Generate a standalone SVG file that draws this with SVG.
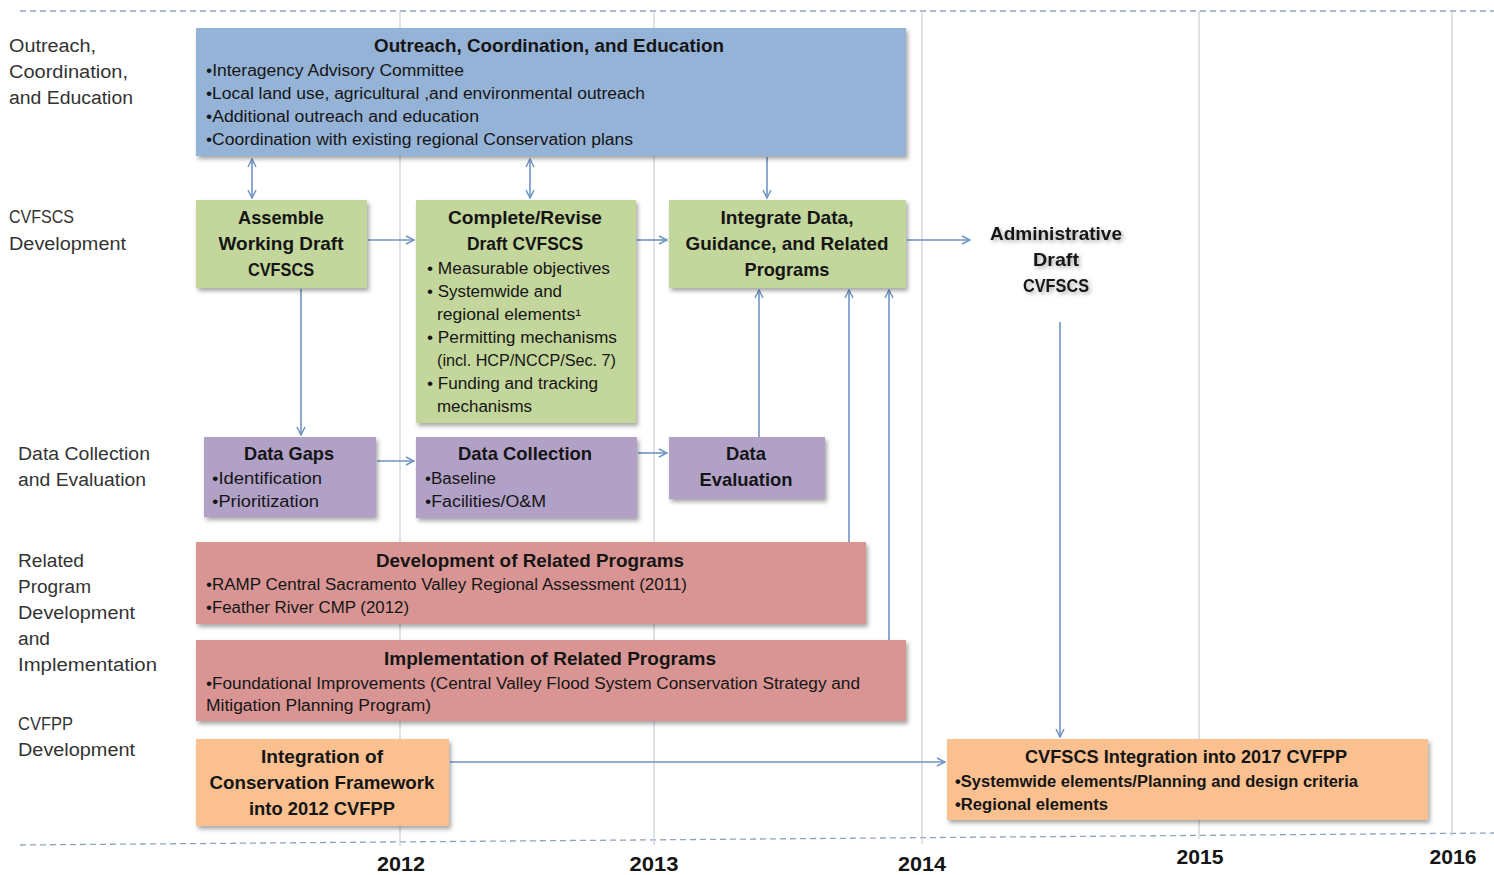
<svg xmlns="http://www.w3.org/2000/svg" width="1494" height="875" viewBox="0 0 1494 875">
<style>
text{font-family:"Liberation Sans",Arial,sans-serif;fill:#151515}
.lbl{font-size:18px;fill:#333}
.t{font-size:19px;font-weight:bold;text-anchor:middle}
.b{font-size:16px}
.bb{font-size:16px;font-weight:bold}
.yr{font-size:20px;font-weight:bold;text-anchor:middle}
.grid{stroke:#c9cdd6;stroke-width:1.2}
.dash{stroke:#8ea3bd;stroke-width:1.3;stroke-dasharray:6 4;fill:none}
.c{stroke:#6f93c2;stroke-width:1.6;fill:none}
.blue{fill:#95b3d7}
.green{fill:#c3d69b}
.purple{fill:#b2a1c7}
.red{fill:#d99594}
.orange{fill:#fac090}
</style>
<defs>
<filter id="sh" x="-5%" y="-5%" width="112%" height="125%">
<feDropShadow dx="2" dy="3" stdDeviation="2" flood-color="#000" flood-opacity="0.35"/>
</filter>
<filter id="glow" x="-10%" y="-20%" width="125%" height="150%">
<feDropShadow dx="2" dy="2" stdDeviation="2" flood-color="#000" flood-opacity="0.35"/>
</filter>
<marker id="ah" viewBox="0 0 10 10" refX="9" refY="5" markerWidth="10" markerHeight="10" markerUnits="userSpaceOnUse" orient="auto-start-reverse">
<path d="M1,1 L9,5 L1,9" fill="none" stroke="#6f93c2" stroke-width="1.5"/>
</marker>
</defs>
<rect width="1494" height="875" fill="#fff"/>
<g id="timeline">
<line class="dash" x1="20" y1="11" x2="1494" y2="11"/>
<line class="dash" x1="20" y1="845" x2="1494" y2="833"/>
<line class="grid" x1="400" y1="11" x2="400" y2="846"/>
<line class="grid" x1="654" y1="11" x2="654" y2="845"/>
<line class="grid" x1="922" y1="11" x2="922" y2="844"/>
<line class="grid" x1="1199" y1="11" x2="1199" y2="839"/>
<line class="grid" x1="1452" y1="11" x2="1452" y2="836"/>
<text class="yr" x="401" y="871" textLength="48" lengthAdjust="spacingAndGlyphs">2012</text>
<text class="yr" x="654" y="871" textLength="49" lengthAdjust="spacingAndGlyphs">2013</text>
<text class="yr" x="922" y="871" textLength="48" lengthAdjust="spacingAndGlyphs">2014</text>
<text class="yr" x="1200" y="864" textLength="47" lengthAdjust="spacingAndGlyphs">2015</text>
<text class="yr" x="1453" y="864" textLength="47" lengthAdjust="spacingAndGlyphs">2016</text>
</g>
<g id="lane-labels">
<text class="lbl" x="9" y="52" textLength="87" lengthAdjust="spacingAndGlyphs">Outreach,</text>
<text class="lbl" x="9" y="78" textLength="119" lengthAdjust="spacingAndGlyphs">Coordination,</text>
<text class="lbl" x="9" y="104" textLength="124" lengthAdjust="spacingAndGlyphs">and Education</text>
<text class="lbl" x="9" y="223" textLength="65" lengthAdjust="spacingAndGlyphs">CVFSCS</text>
<text class="lbl" x="9" y="250" textLength="117" lengthAdjust="spacingAndGlyphs">Development</text>
<text class="lbl" x="18" y="460" textLength="132" lengthAdjust="spacingAndGlyphs">Data Collection</text>
<text class="lbl" x="18" y="486" textLength="128" lengthAdjust="spacingAndGlyphs">and Evaluation</text>
<text class="lbl" x="18" y="567" textLength="66" lengthAdjust="spacingAndGlyphs">Related</text>
<text class="lbl" x="18" y="593" textLength="73" lengthAdjust="spacingAndGlyphs">Program</text>
<text class="lbl" x="18" y="619" textLength="117" lengthAdjust="spacingAndGlyphs">Development</text>
<text class="lbl" x="18" y="645" textLength="32" lengthAdjust="spacingAndGlyphs">and</text>
<text class="lbl" x="18" y="671" textLength="139" lengthAdjust="spacingAndGlyphs">Implementation</text>
<text class="lbl" x="18" y="730" textLength="55" lengthAdjust="spacingAndGlyphs">CVFPP</text>
<text class="lbl" x="18" y="756" textLength="117" lengthAdjust="spacingAndGlyphs">Development</text>
</g>
<g id="connectors">
<line class="c" x1="252" y1="159" x2="252" y2="198" marker-start="url(#ah)" marker-end="url(#ah)"/>
<line class="c" x1="530" y1="159" x2="530" y2="198" marker-start="url(#ah)" marker-end="url(#ah)"/>
<line class="c" x1="767" y1="157" x2="767" y2="198" marker-end="url(#ah)"/>
<line class="c" x1="368" y1="240" x2="414" y2="240" marker-end="url(#ah)"/>
<line class="c" x1="637" y1="240" x2="667" y2="240" marker-end="url(#ah)"/>
<line class="c" x1="907" y1="240" x2="970" y2="240" marker-end="url(#ah)"/>
<line class="c" x1="301" y1="289" x2="301" y2="435" marker-end="url(#ah)"/>
<line class="c" x1="377" y1="461" x2="414" y2="461" marker-end="url(#ah)"/>
<line class="c" x1="638" y1="453" x2="667" y2="453" marker-end="url(#ah)"/>
<line class="c" x1="759" y1="437" x2="759" y2="290" marker-end="url(#ah)"/>
<line class="c" x1="849" y1="542" x2="849" y2="290" marker-end="url(#ah)"/>
<line class="c" x1="889" y1="640" x2="889" y2="290" marker-end="url(#ah)"/>
<line class="c" x1="1060" y1="322" x2="1060" y2="737" marker-end="url(#ah)"/>
<line class="c" x1="450" y1="762" x2="945" y2="762" marker-end="url(#ah)"/>
</g>
<g id="outreach">
<rect class="blue" x="196" y="28" width="710" height="128" filter="url(#sh)"/>
<text class="t" x="549" y="52" textLength="350" lengthAdjust="spacingAndGlyphs">Outreach, Coordination, and Education</text>
<text class="b" x="206" y="76" textLength="258" lengthAdjust="spacingAndGlyphs">•Interagency Advisory Committee</text>
<text class="b" x="206" y="99" textLength="439" lengthAdjust="spacingAndGlyphs">•Local land use, agricultural ,and environmental outreach</text>
<text class="b" x="206" y="122" textLength="273" lengthAdjust="spacingAndGlyphs">•Additional outreach and education</text>
<text class="b" x="206" y="145" textLength="427" lengthAdjust="spacingAndGlyphs">•Coordination with existing regional Conservation plans</text>
</g>
<g id="assemble">
<rect class="green" x="196" y="200" width="171" height="88" filter="url(#sh)"/>
<text class="t" x="281" y="224" textLength="86" lengthAdjust="spacingAndGlyphs">Assemble</text>
<text class="t" x="281" y="250" textLength="125" lengthAdjust="spacingAndGlyphs">Working Draft</text>
<text class="t" x="281" y="276" textLength="66" lengthAdjust="spacingAndGlyphs">CVFSCS</text>
</g>
<g id="complete">
<rect class="green" x="416" y="200" width="220" height="223" filter="url(#sh)"/>
<text class="t" x="525" y="224" textLength="154" lengthAdjust="spacingAndGlyphs">Complete/Revise</text>
<text class="t" x="525" y="250" textLength="116" lengthAdjust="spacingAndGlyphs">Draft CVFSCS</text>
<text class="b" x="427" y="274" textLength="183" lengthAdjust="spacingAndGlyphs">• Measurable objectives</text>
<text class="b" x="427" y="297" textLength="135" lengthAdjust="spacingAndGlyphs">• Systemwide and</text>
<text class="b" x="437" y="320" textLength="144" lengthAdjust="spacingAndGlyphs">regional elements¹</text>
<text class="b" x="427" y="343" textLength="190" lengthAdjust="spacingAndGlyphs">• Permitting mechanisms</text>
<text class="b" x="437" y="366" textLength="179" lengthAdjust="spacingAndGlyphs">(incl. HCP/NCCP/Sec. 7)</text>
<text class="b" x="427" y="389" textLength="171" lengthAdjust="spacingAndGlyphs">• Funding and tracking</text>
<text class="b" x="437" y="412" textLength="95" lengthAdjust="spacingAndGlyphs">mechanisms</text>
</g>
<g id="integrate">
<rect class="green" x="669" y="200" width="237" height="88" filter="url(#sh)"/>
<text class="t" x="787" y="224" textLength="133" lengthAdjust="spacingAndGlyphs">Integrate Data,</text>
<text class="t" x="787" y="250" textLength="203" lengthAdjust="spacingAndGlyphs">Guidance, and Related</text>
<text class="t" x="787" y="276" textLength="85" lengthAdjust="spacingAndGlyphs">Programs</text>
</g>
<g id="admin-draft" filter="url(#glow)">
<text class="t" x="1056" y="240" textLength="132" lengthAdjust="spacingAndGlyphs">Administrative</text>
<text class="t" x="1056" y="266" textLength="46" lengthAdjust="spacingAndGlyphs">Draft</text>
<text class="t" x="1056" y="292" textLength="66" lengthAdjust="spacingAndGlyphs">CVFSCS</text>
</g>
<g id="data-gaps">
<rect class="purple" x="204" y="437" width="172" height="80" filter="url(#sh)"/>
<text class="t" x="289" y="460" textLength="90" lengthAdjust="spacingAndGlyphs">Data Gaps</text>
<text class="b" x="212" y="484" textLength="110" lengthAdjust="spacingAndGlyphs">•Identification</text>
<text class="b" x="212" y="507" textLength="107" lengthAdjust="spacingAndGlyphs">•Prioritization</text>
</g>
<g id="data-collection">
<rect class="purple" x="416" y="437" width="221" height="81" filter="url(#sh)"/>
<text class="t" x="525" y="460" textLength="134" lengthAdjust="spacingAndGlyphs">Data Collection</text>
<text class="b" x="425" y="484" textLength="71" lengthAdjust="spacingAndGlyphs">•Baseline</text>
<text class="b" x="425" y="507" textLength="121" lengthAdjust="spacingAndGlyphs">•Facilities/O&amp;M</text>
</g>
<g id="data-evaluation">
<rect class="purple" x="669" y="437" width="156" height="62" filter="url(#sh)"/>
<text class="t" x="746" y="460" textLength="40" lengthAdjust="spacingAndGlyphs">Data</text>
<text class="t" x="746" y="486" textLength="93" lengthAdjust="spacingAndGlyphs">Evaluation</text>
</g>
<g id="dev-related">
<rect class="red" x="196" y="542" width="670" height="82" filter="url(#sh)"/>
<text class="t" x="530" y="567" textLength="308" lengthAdjust="spacingAndGlyphs">Development of Related Programs</text>
<text class="b" x="206" y="590" textLength="481" lengthAdjust="spacingAndGlyphs">•RAMP Central Sacramento Valley Regional Assessment (2011)</text>
<text class="b" x="206" y="613" textLength="203" lengthAdjust="spacingAndGlyphs">•Feather River CMP (2012)</text>
</g>
<g id="impl-related">
<rect class="red" x="196" y="640" width="710" height="81" filter="url(#sh)"/>
<text class="t" x="550" y="665" textLength="332" lengthAdjust="spacingAndGlyphs">Implementation of Related Programs</text>
<text class="b" x="206" y="689" textLength="654" lengthAdjust="spacingAndGlyphs">•Foundational Improvements (Central Valley Flood System Conservation Strategy and</text>
<text class="b" x="206" y="711" textLength="225" lengthAdjust="spacingAndGlyphs">Mitigation Planning Program)</text>
</g>
<g id="integration-2012">
<rect class="orange" x="196" y="739" width="253" height="87" filter="url(#sh)"/>
<text class="t" x="322" y="763" textLength="122" lengthAdjust="spacingAndGlyphs">Integration of</text>
<text class="t" x="322" y="789" textLength="225" lengthAdjust="spacingAndGlyphs">Conservation Framework</text>
<text class="t" x="322" y="815" textLength="146" lengthAdjust="spacingAndGlyphs">into 2012 CVFPP</text>
</g>
<g id="integration-2017">
<rect class="orange" x="947" y="739" width="481" height="81" filter="url(#sh)"/>
<text class="t" x="1186" y="763" textLength="322" lengthAdjust="spacingAndGlyphs">CVFSCS Integration into 2017 CVFPP</text>
<text class="bb" x="955" y="787" textLength="403" lengthAdjust="spacingAndGlyphs">•Systemwide elements/Planning and design criteria</text>
<text class="bb" x="955" y="810" textLength="153" lengthAdjust="spacingAndGlyphs">•Regional elements</text>
</g>
</svg>
